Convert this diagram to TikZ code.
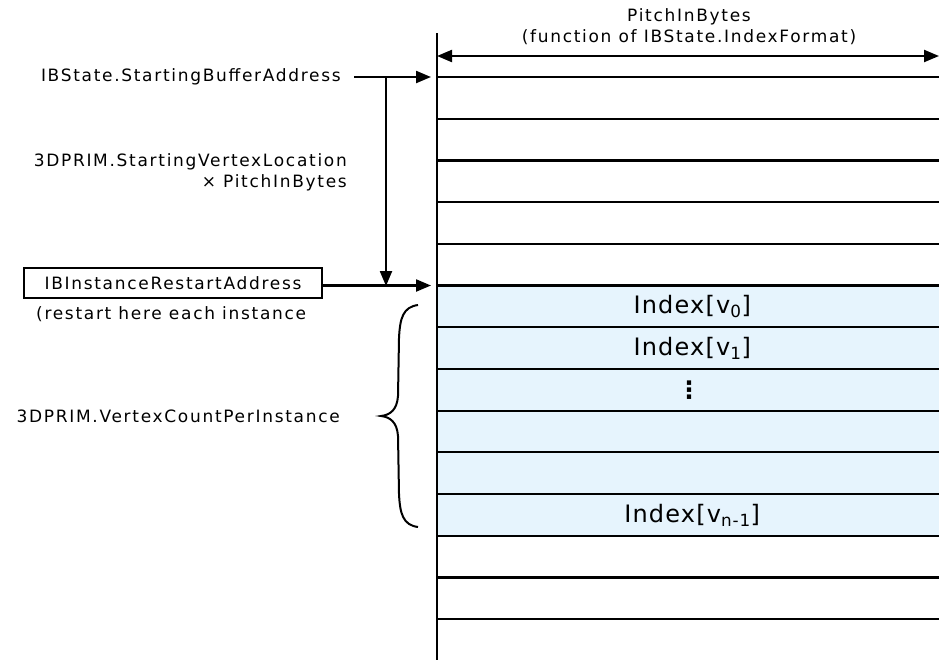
\documentclass[tikz,border=0pt]{standalone}
\usepackage{fontspec}
\setmainfont{DejaVu Sans}
\newfontfamily\lblfont[LetterSpace=10]{DejaVu Sans}
\newfontfamily\idxfont[LetterSpace=5]{DejaVu Sans}
\usetikzlibrary{arrows.meta}
\definecolor{rowblue}{HTML}{E6F4FD}
\begin{document}
\begin{tikzpicture}[x=1pt,y=-1pt,
  lbl/.style={font=\lblfont\fontsize{17}{21}\selectfont, inner sep=0pt},
  idx/.style={font=\idxfont\fontsize{24}{28}\selectfont, inner sep=0pt},
  rowbox/.style={minimum width=502pt, minimum height=41.7pt, inner sep=0pt, anchor=north west, draw=none},
  bluerow/.style={rowbox, fill=rowblue},
  hline/.style={line width=2.2pt},
  arr/.style={line width=2.2pt, -{Triangle[length=15pt,width=12pt]}},
  dblarr/.style={line width=2.2pt, {Triangle[length=15pt,width=12pt]}-{Triangle[length=15pt,width=12pt]}}]
\useasboundingbox (0,0) rectangle (939,659);
% rows
\foreach \i in {0,...,13}{
  \pgfmathsetmacro{\yy}{77+41.7*\i}
  \ifnum\i<5
    \node[rowbox] (r\i) at (437,\yy) {};
  \else\ifnum\i>10
    \node[rowbox] (r\i) at (437,\yy) {};
  \else
    \node[bluerow] (r\i) at (437,\yy) {};
  \fi\fi
  \draw[hline] (r\i.north west) -- (r\i.north east);
}
% main vertical line
\coordinate (vtop) at (437,33);
\coordinate (vbot) at (437,662);
\draw[line width=2.8pt] (vtop) -- (vbot);
% pitch arrow
\coordinate (pl) at (437,56);
\coordinate (pr) at (939,56);
\draw[dblarr] (pl) -- (pr);
\node[lbl, align=center] (pitch) at (689,27) {PitchInBytes\\(function of IBState.IndexFormat)};
% index labels
\node[idx] (i0) at ([xshift=4pt]r5.center) {Index[v\textsubscript{0}]};
\node[idx] (i1) at ([xshift=4pt]r6.center) {Index[v\textsubscript{1}]};
\node[font=\bfseries\fontsize{24}{28}\selectfont, inner sep=0pt] (idots) at ([xshift=1pt]r7.center) {⋮};
\node[idx] (in) at ([xshift=4pt]r10.center) {Index[v\textsubscript{n-1}]};
% left labels
\node[lbl, anchor=east] (sba) at (341,77) {IBState.StartingBufferAddress};
\node[lbl, anchor=north east, align=right] (svl) at (347,153) {3DPRIM.StartingVertexLocation\\× PitchInBytes};
\node[draw, line width=2.2pt, minimum width=298pt, minimum height=30pt, inner sep=0pt, font=\lblfont\fontsize{17}{21}\selectfont] (rst) at (173,283) {IBInstanceRestartAddress};
\node[lbl, anchor=west] (note) at (36,314) {(restart here each instance};
\node[lbl, anchor=east] (vcp) at (340,416) {3DPRIM.VertexCountPerInstance};
% arrows
\coordinate (j1) at (386,77);
\coordinate (j2) at (386,286);
\draw[arr] ([xshift=13pt]sba.east) -- ([xshift=-6pt]r0.north west);
\draw[arr] (j1) -- (j2);
\draw[arr] (rst.east |- r5.north west) -- ([xshift=-6pt]r5.north west);
% brace
\draw[line width=2pt] (418,305) .. controls (403,307) and (400,318) .. (399,338)
  -- (398,396) .. controls (397,410) and (390,415) .. (381,416)
  .. controls (390,417) and (397,422) .. (398,436)
  -- (399,494) .. controls (400,514) and (403,525) .. (418,527);
\end{tikzpicture}
\end{document}
